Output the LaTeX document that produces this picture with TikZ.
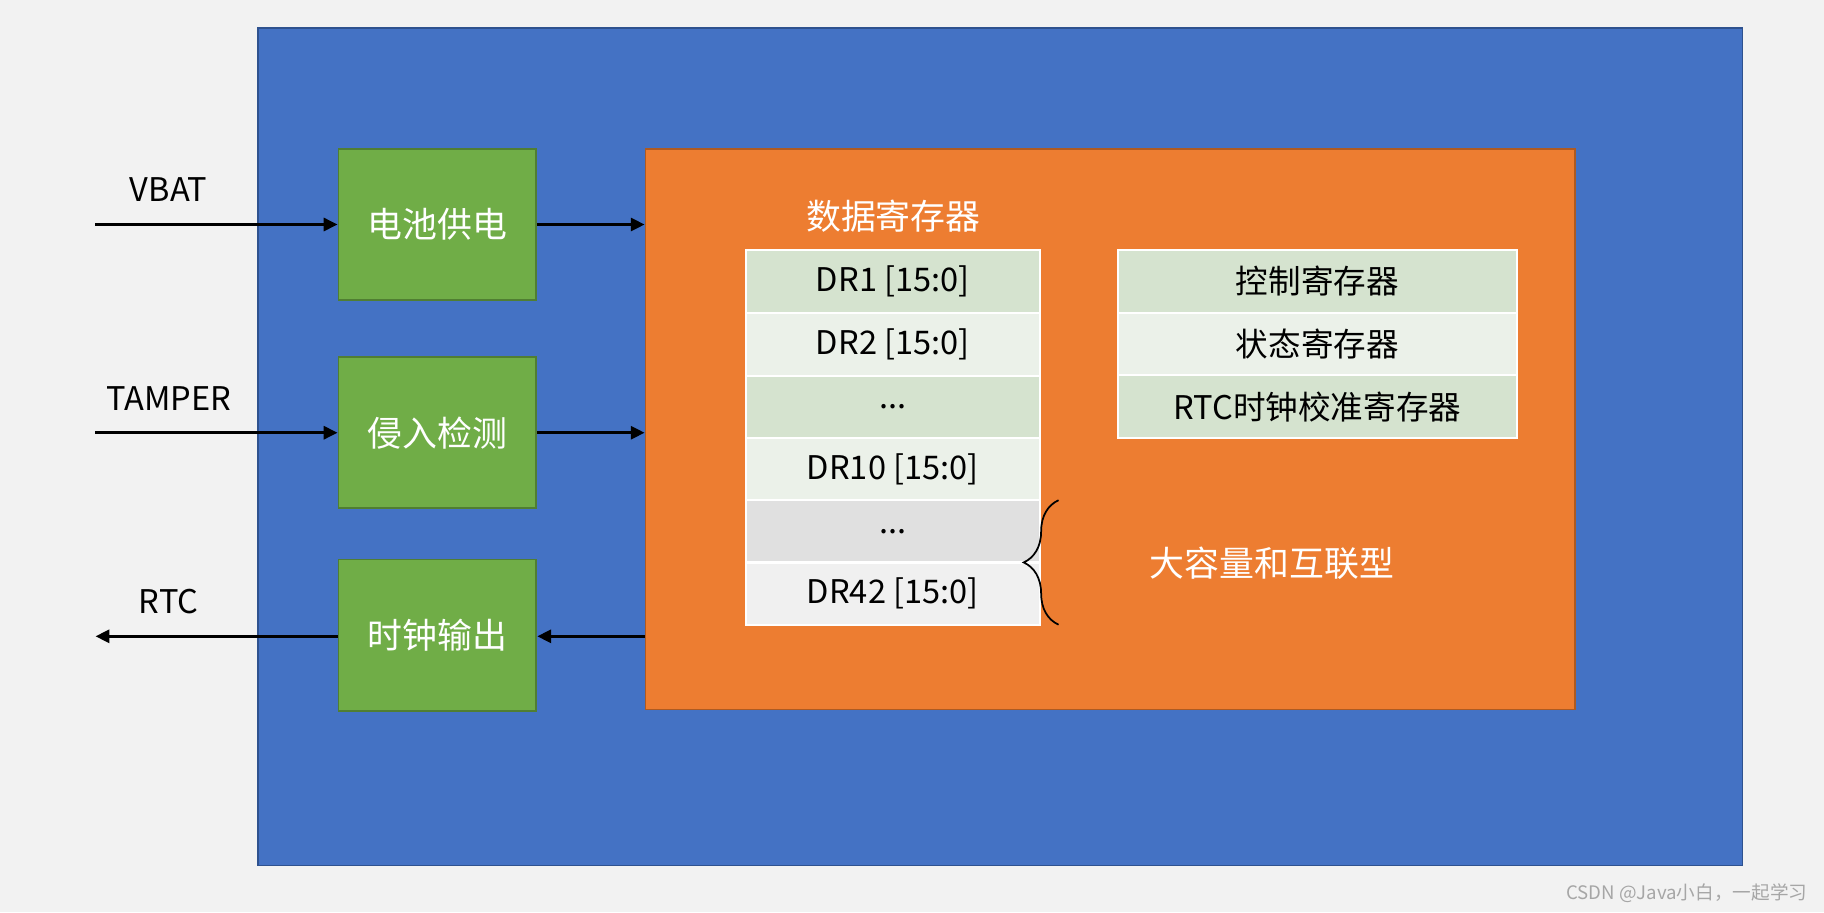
\documentclass[tikz,border=0pt]{standalone}
\usepackage{fontspec}
\setmainfont{Noto Sans CJK SC}
\usetikzlibrary{decorations.pathreplacing,arrows.meta}
\definecolor{bg}{HTML}{F2F2F2}
\definecolor{blu}{HTML}{4472C4}
\definecolor{bluB}{HTML}{2F528F}
\definecolor{grn}{HTML}{70AD47}
\definecolor{grnB}{HTML}{507E32}
\definecolor{org}{HTML}{ED7D31}
\definecolor{orgB}{HTML}{AE5A21}
\definecolor{ra}{HTML}{D5E3CF}
\definecolor{rb}{HTML}{EBF1E9}
\definecolor{rc}{HTML}{E0E0E0}
\definecolor{rd}{HTML}{F0F0F0}
\begin{document}
\begin{tikzpicture}[x=1pt,y=-1pt,
  box/.style={draw=grnB,line width=1.5pt,fill=grn,text=white,minimum width=170pt,minimum height=130pt,font=\fontsize{30}{36}\selectfont},
  cell/.style={draw=white,line width=2pt,minimum height=54pt,font=\fontsize{28}{34}\selectfont,text=black,inner sep=0pt},
  lab/.style={font=\fontsize{28}{34}\selectfont,text=black},
  arr/.style={line width=3pt,-{Triangle[length=12pt,width=11pt]}}]
\useasboundingbox (0,0) rectangle (1568,784);
\fill[bg] (0,0) rectangle (1568,784);
\draw[fill=blu,draw=bluB,line width=1.5pt] (222,24) rectangle (1498,744);
\node[box] (b1) at (376,193) {电池供电};
\node[box] (b2) at (376,372) {侵入检测};
\node[box] (b3) at (376,546) {时钟输出};
\node[draw=orgB,line width=1.5pt,fill=org,minimum width=799pt,minimum height=482pt,inner sep=0pt] (o) at (954.5,369) {};
\node[text=white,font=\fontsize{30}{36}\selectfont] (t) at (768,186) {数据寄存器};
\foreach \n/\y/\c/\t in {d1/242/ra/{DR1 [15:0]},d2/296/rb/{DR2 [15:0]},d3/350/ra/{...},d4/403.5/rb/{DR10 [15:0]},d5/457/rc/{...},d6/510.5/rd/{DR42 [15:0]}}
  \node[cell,fill=\c,minimum width=253pt] (\n) at (767.5,\y) {\t};
\foreach \n/\y/\c/\t in {r1/242/ra/{控制寄存器},r2/296/rb/{状态寄存器},r3/349.5/ra/{RTC时钟校准寄存器}}
  \node[cell,fill=\c,minimum width=343pt] (\n) at (1132.5,\y) {\t};
\coordinate (bt) at (910,430); \coordinate (bb) at (910,537);
\draw[line width=1.5pt,decorate,decoration={brace,amplitude=30pt,mirror}] (bt) -- (bb);
\node[text=white,font=\fontsize{30}{36}\selectfont,anchor=west] (big) at (985,484) {大容量和互联型};
\coordinate (vin) at (82,193); \coordinate (tin) at (82,372); \coordinate (rout) at (82,547);
\draw[arr] (vin) -- (b1.west|-vin);
\draw[arr] (tin) -- (b2.west|-tin);
\draw[arr] (b3.west|-rout) -- (rout);
\draw[arr] (b1.east) -- (o.west|-b1.east);
\draw[arr] (b2.east) -- (o.west|-b2.east);
\draw[arr] (o.west|-rout) -- (b3.east|-rout);
\node[lab] (lv) at (145,163) {VBAT};
\node[lab] (lt) at (145,343) {TAMPER};
\node[lab] (lr) at (145,517) {RTC};
\node[text=gray!70,font=\fontsize{16}{19}\selectfont] (wm) at (1450,768) {CSDN @Java小白，一起学习};
\end{tikzpicture}
\end{document}
